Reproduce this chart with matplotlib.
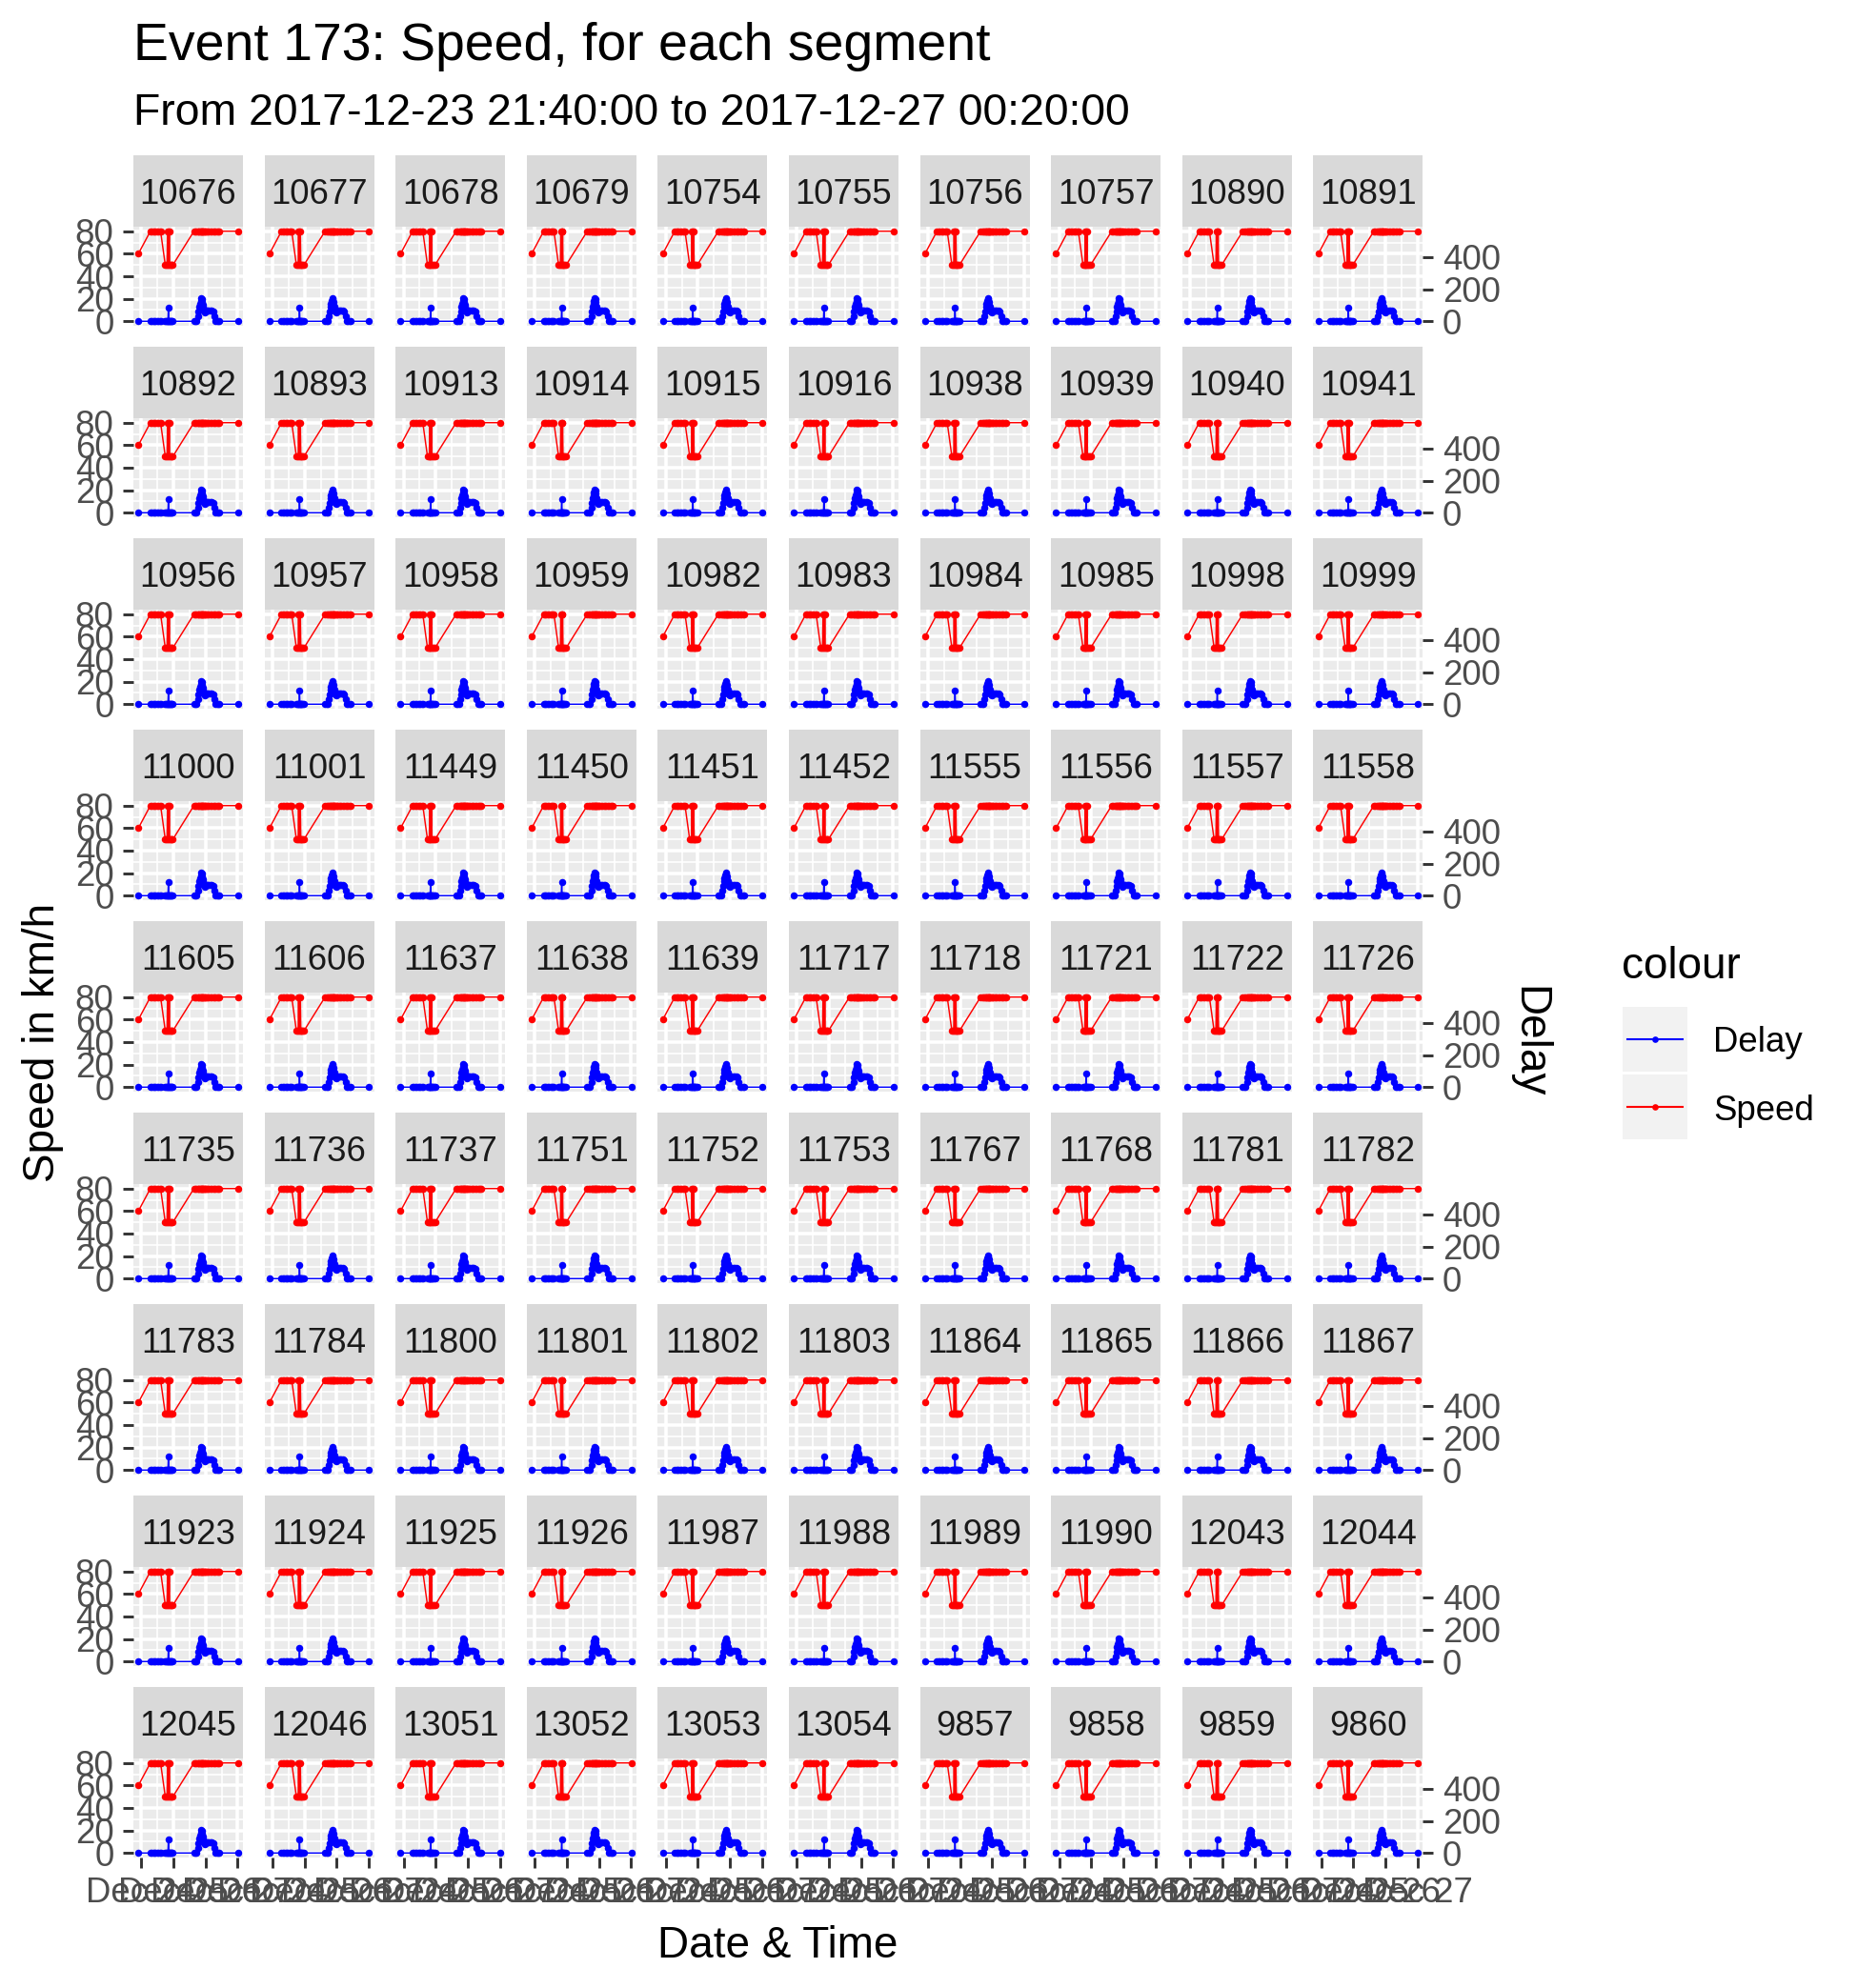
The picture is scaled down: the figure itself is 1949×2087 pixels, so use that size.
import matplotlib
matplotlib.use("Agg")
import matplotlib.pyplot as plt
from matplotlib.patches import Rectangle
from matplotlib.lines import Line2D

plt.rcParams['font.family'] = ['Liberation Sans', 'DejaVu Sans']

# segment ids, one facet each
segments = [
    "10676", "10677", "10678", "10679", "10754", "10755", "10756", "10757", "10890", "10891",
    "10892", "10893", "10913", "10914", "10915", "10916", "10938", "10939", "10940", "10941",
    "10956", "10957", "10958", "10959", "10982", "10983", "10984", "10985", "10998", "10999",
    "11000", "11001", "11449", "11450", "11451", "11452", "11555", "11556", "11557", "11558",
    "11605", "11606", "11637", "11638", "11639", "11717", "11718", "11721", "11722", "11726",
    "11735", "11736", "11737", "11751", "11752", "11753", "11767", "11768", "11781", "11782",
    "11783", "11784", "11800", "11801", "11802", "11803", "11864", "11865", "11866", "11867",
    "11923", "11924", "11925", "11926", "11987", "11988", "11989", "11990", "12043", "12044",
    "12045", "12046", "13051", "13052", "13053", "13054", "9857", "9858", "9859", "9860",
]

# hours after 2017-12-24 00:00 (first = 2017-12-23 21:40, last = 2017-12-27 00:20)
hours = [-2.33, 6.67, 7.67, 8.67, 9.67, 10.67, 11.67, 12.67, 13.67, 14.33,
         17.83, 18.5, 19.17, 19.5, 19.83, 20.17, 20.5, 20.83, 21.17, 21.5, 22.17, 22.83, 23.5,
         39.33, 40.33, 41.33, 42.33, 42.83, 43.33, 43.83, 44.33, 44.83, 45.17, 45.5, 45.83,
         46.17, 46.67, 47.17, 47.67, 48.17, 48.67, 49.67, 50.67, 51.67, 52.67, 53.67, 54.67,
         55.67, 56.67, 57.67, 58.33,
         72.33]
speed = [60, 80, 80, 80, 80, 80, 80, 80, 80, 80,
         50, 50, 50, 80, 50, 80, 50, 80, 50, 50, 50, 50, 50,
         80, 80, 80, 80, 80, 80, 80, 80, 80, 80, 80, 80,
         80, 80, 80, 80, 80, 80, 80, 80, 80, 80, 80, 80,
         80, 80, 80, 80,
         80]
delay = [0, 0, 0, 0, 0, 0, 0, 0, 0, 0,
         0, 0, 0, 0, 0, 85, 0, 0, 0, 0, 0, 0, 0,
         0, 0, 0, 30, 60, 90, 110, 125, 141, 135, 120, 105,
         90, 75, 60, 55, 65, 65, 65, 65, 65, 65, 60, 30,
         0, 0, 0, 0,
         0]
delay_scale = 7  # delay is drawn as delay / 7 on the speed axis

x_ticks = [0, 24, 48, 72]
x_labels = ["Dec 24", "Dec 25", "Dec 26", "Dec 27"]
y_ticks = [0, 20, 40, 60, 80]
delay_ticks = [0, 200, 400]

W, H = 1949, 2087
fig = plt.figure(figsize=(W / 300, H / 300), dpi=300)

left0, pw, pitch_x = 140, 115, 137.6
top0, strip_h, ph, pitch_y = 163, 75, 104, 201
ncol = 10

tick_len = 2.7
tick_w = 0.7
grey30 = "#4D4D4D"
grey20 = "#333333"

delay_plot = [d / delay_scale for d in delay]
span = hours[-1] - hours[0]
xlim = (hours[0] - 0.05 * span, hours[-1] + 0.05 * span)

for i, seg in enumerate(segments):
    r, c = divmod(i, ncol)
    x0 = left0 + c * pitch_x
    st = top0 + r * pitch_y
    pt = st + strip_h

    strip = fig.add_axes([x0 / W, 1 - pt / H, pw / W, strip_h / H])
    strip.set_facecolor("#D9D9D9")
    strip.set_xticks([])
    strip.set_yticks([])
    for s in strip.spines.values():
        s.set_visible(False)
    strip.text(0.5, 0.5, seg, ha="center", va="center_baseline", fontsize=8.8,
               color="#1A1A1A", transform=strip.transAxes)

    ax = fig.add_axes([x0 / W, 1 - (pt + ph) / H, pw / W, ph / H])
    ax.set_facecolor("#EBEBEB")
    for s in ax.spines.values():
        s.set_visible(False)
    ax.set_xlim(*xlim)
    ax.set_ylim(-4, 84)
    ax.set_xticks(x_ticks)
    ax.set_xticks([12, 36, 60], minor=True)
    ax.set_yticks(y_ticks)
    ax.set_yticks([10, 30, 50, 70], minor=True)
    ax.grid(which="major", color="white", lw=0.85)
    ax.grid(which="minor", color="white", lw=0.4)
    ax.set_axisbelow(True)
    ax.tick_params(which="minor", length=0)
    ax.tick_params(which="major", length=tick_len, width=tick_w, color=grey20,
                   labelsize=8.8, labelcolor=grey30, pad=2.2)

    ax.plot(hours, speed, color="red", lw=0.35, marker="o", ms=1.8, mew=0, zorder=3)
    ax.plot(hours, delay_plot, color="blue", lw=0.35, marker="o", ms=1.8, mew=0, zorder=3)

    if c == 0:
        ax.set_yticklabels([str(v) for v in y_ticks])
    else:
        ax.tick_params(axis="y", length=0, labelleft=False)
    if r == 8:
        ax.set_xticklabels(x_labels)
    else:
        ax.tick_params(axis="x", length=0, labelbottom=False)

    if c == ncol - 1:
        sec = ax.secondary_yaxis("right", functions=(lambda s: s * delay_scale,
                                                      lambda d: d / delay_scale))
        sec.set_yticks(delay_ticks)
        sec.spines["right"].set_visible(False)
        sec.tick_params(length=tick_len, width=tick_w, color=grey20,
                        labelsize=8.8, labelcolor=grey30, pad=2.2)

# titles
fig.text(140 / W, 1 - 63 / H, "Event 173: Speed, for each segment", fontsize=13.3,
         va="baseline", ha="left")
fig.text(140 / W, 1 - 131 / H, "From 2017-12-23 21:40:00 to 2017-12-27 00:20:00",
         fontsize=11.15, va="baseline", ha="left")
fig.text(45 / W, 1 - 1094 / H, "Speed in km/h", rotation=90, fontsize=11,
         ha="center", va="center")
fig.text(1604 / W, 1 - 1094 / H, "Delay", rotation=-90, fontsize=11,
         ha="center", va="center")
fig.text(816.5 / W, 1 - 2043 / H, "Date & Time", fontsize=11, ha="center", va="center")

# legend, drawn in pixel coordinates
ov = fig.add_axes([0, 0, 1, 1])
ov.set_xlim(0, W)
ov.set_ylim(H, 0)
ov.axis("off")
ov.text(1702, 1027, "colour", fontsize=11, va="baseline", ha="left")
for k, (name, col) in enumerate([("Delay", "blue"), ("Speed", "red")]):
    ky = 1057 + k * 71
    ov.add_patch(Rectangle((1703, ky), 68, 68, facecolor="#F2F2F2", edgecolor="none"))
    cy = ky + 34
    ov.add_line(Line2D([1708, 1766], [cy, cy], color=col, lw=0.5))
    ov.plot([1737], [cy], "o", color=col, ms=1.6, mew=0)
    ov.text(1798, cy, name, fontsize=8.8, va="center_baseline", ha="left")

fig.savefig("out.png", dpi=300)
